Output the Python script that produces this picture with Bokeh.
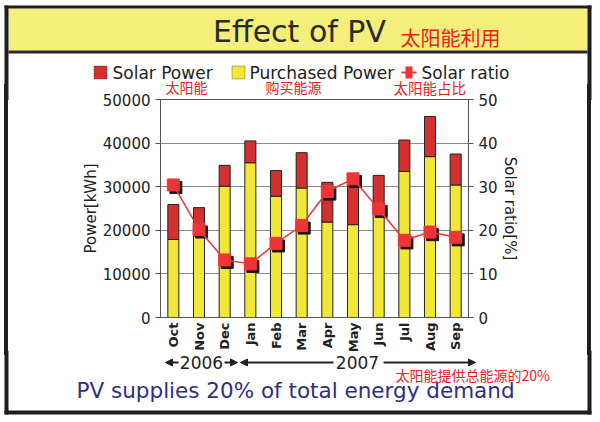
from bokeh.plotting import figure
from bokeh.layouts import column, row
from bokeh.models import (Range1d, LinearAxis, FactorRange, Label, BoxAnnotation, Div,
                          Arrow, NormalHead, ColumnDataSource, SingleIntervalTicker)
from bokeh.transform import dodge
from bokeh.embed import file_html
from bokeh.resources import INLINE

months = ["Oct", "Nov", "Dec", "Jan", "Feb", "Mar", "Apr", "May", "Jun", "Jul", "Aug", "Sep"]
purchased = [17900, 18700, 30100, 35500, 27800, 29700, 21900, 21300, 23800, 33500, 36900, 30400]
solar = [8000, 6500, 4800, 5000, 5900, 8100, 9100, 10600, 8800, 7200, 9200, 7100]
ratio = [30.4, 20.2, 13.2, 12.3, 17.0, 21.1, 28.9, 31.8, 24.9, 17.7, 19.6, 18.4]

RED = "#D3302F"
YELLOW = "#F2E637"
MRED = "#EE3535"
TRED = "#E8201F"
DARK = "#1e1e1e"
FONT = "DejaVu Sans"
CJK = "Noto Sans CJK SC"

W = 592
H_HEAD = 100          # head canvas: 0..100
OV_TOP = 16           # middle row overlaps head by this much -> starts at 84
H_MID = 271           # middle: 84..355
OV_BOT = 5            # bottom overlaps middle -> starts at 350
H_BOT = 66            # bottom: 350..416


def blank(w, h, y0, transparent=False):
    f = figure(width=w, height=h, x_range=Range1d(0, w), y_range=Range1d(y0 + h, y0),
               output_backend="svg", toolbar_location=None, min_border=0,
               x_axis_location=None, y_axis_location=None)
    f.grid.grid_line_color = None
    f.outline_line_color = None
    f.background_fill_color = "white"
    f.border_fill_color = "white"
    if transparent:
        f.background_fill_alpha = 0
        f.border_fill_alpha = 0
    return f


def box(f, l, r, t, b, color, line=None):
    f.add_layout(BoxAnnotation(left=l, right=r, top=t, bottom=b, fill_color=color,
                               fill_alpha=1, line_color=line, line_width=1))


def lab(f, text, x, y, size, color="#222222", font=FONT, align="left"):
    f.add_layout(Label(x=x, y=y, text=text, text_font=font, text_font_size=size,
                       text_color=color, text_align=align, text_baseline="middle"))


# ---------------- head ----------------
head = blank(W, H_HEAD, 0)
box(head, 8, 587, 8, 50, "#F4EE7A")
box(head, 8, 587, 50, 53, "#2a2a2a")
box(head, 4, 591, 5, 8, DARK)
box(head, 4, 8, 5, H_HEAD, DARK)
box(head, 587, 591, 5, H_HEAD, DARK)
lab(head, "Effect of PV", 299, 31, "30px", "#2a2a2a", align="center")
lab(head, "太阳能利用", 400, 37, "20px", TRED, font=CJK)
lab(head, "太阳能", 165, 86.5, "14px", TRED, font=CJK)
lab(head, "购买能源", 265, 86.5, "14px", TRED, font=CJK)
lab(head, "太阳能占比", 393, 86.5, "14.5px", TRED, font=CJK)

# legend
box(head, 93.5, 106.5, 65.5, 78.5, RED, DARK)
lab(head, "Solar Power", 112, 72, "17px")
box(head, 231.5, 244.5, 65.5, 78.5, YELLOW, DARK)
lab(head, "Purchased Power", 249, 72, "17px")
box(head, 401, 416, 71, 73, MRED)
box(head, 405, 412, 66, 78, MRED)
lab(head, "Solar ratio", 421, 72, "17px")

# ---------------- main chart ----------------
src = ColumnDataSource(dict(month=months, purchased=purchased, solar=solar, ratio=ratio))

p = figure(width=579, height=H_MID, x_range=FactorRange(*months), y_range=Range1d(0, 50000),
           output_backend="svg", toolbar_location=None,
           min_border_left=152, min_border_right=119, min_border_top=15, min_border_bottom=38)
p.extra_y_ranges = {"ratio": Range1d(0, 50)}

p.vbar_stack(["purchased", "solar"], x="month", width=0.43, source=src,
             fill_color=[YELLOW, RED], line_color="#222222", line_width=1)

p.scatter(x=dodge("month", 0.1, range=p.x_range), y=dodge("ratio", -0.6), source=src,
          marker="square", size=12, fill_color="#1a1a1a", line_color="#1a1a1a",
          y_range_name="ratio")
p.line(x="month", y="ratio", source=src, line_color=MRED, line_width=1.5, y_range_name="ratio")
p.scatter(x="month", y="ratio", source=src, marker="square", size=12,
          fill_color=MRED, line_color=MRED, y_range_name="ratio")

p.yaxis.ticker = SingleIntervalTicker(interval=10000)
p.yaxis.axis_label = "Power[kWh]"
right = LinearAxis(y_range_name="ratio", axis_label="Solar ratio[%]",
                   ticker=SingleIntervalTicker(interval=10))
p.add_layout(right, "right")
for ax in [p.yaxis[0], right]:
    ax.major_label_text_font = FONT
    ax.major_label_text_font_size = "15px"
    ax.major_label_text_color = "#222222"
    ax.axis_label_text_font = FONT
    ax.axis_label_text_font_size = "15px"
    ax.axis_label_text_font_style = "normal"
    ax.axis_label_text_color = "#222222"
    ax.axis_line_color = "#555555"
    ax.major_tick_line_color = "#555555"
    ax.major_tick_out = 5
    ax.major_tick_in = 0
    ax.minor_tick_line_color = None
    ax.axis_label_standoff = 0

xa = p.xaxis[0]
xa.major_label_orientation = 1.5708
xa.major_label_text_font = FONT
xa.major_label_text_font_size = "13px"
xa.major_label_text_font_style = "bold"
xa.major_label_text_color = "#222222"
xa.axis_line_color = "#555555"
xa.major_tick_line_color = None
xa.major_tick_out = 0
xa.major_tick_in = 0
xa.major_label_standoff = 5

p.xgrid.grid_line_color = None
p.ygrid.grid_line_color = "#8a8a8a"
p.ygrid.ticker = SingleIntervalTicker(interval=10000)
p.outline_line_color = "#555555"
p.background_fill_color = "white"
p.border_fill_alpha = 0

lbar = Div(text="", width=8, height=H_MID, margin=0,
           styles={"background": "linear-gradient(90deg, rgba(0,0,0,0) 0px, rgba(0,0,0,0) 4px, #1e1e1e 4px, #1e1e1e 8px)"})
rbar = Div(text="", width=5, height=H_MID, margin=0,
           styles={"background": "linear-gradient(90deg, #1e1e1e 0px, #1e1e1e 4px, rgba(0,0,0,0) 4px, rgba(0,0,0,0) 5px)"})

# ---------------- bottom ----------------
y_bot = H_HEAD - OV_TOP + H_MID - OV_BOT
bot = blank(W, H_BOT, y_bot, transparent=True)
box(bot, 4, 8, y_bot, 414, DARK)
box(bot, 587, 591, y_bot, 414, DARK)
box(bot, 4, 591, 410, 414, DARK)
lab(bot, "2006", 201, 362, "17px", align="center")
lab(bot, "2007", 357, 362, "17px", align="center")
lab(bot, "太阳能提供总能源的20%", 395, 374, "14px", TRED, font=CJK)
lab(bot, "PV supplies 20% of  total energy demand", 76, 390, "21.5px", "#2E2E86")


def arrow(f, x0, x1, y):
    f.add_layout(Arrow(x_start=x0, x_end=x1, y_start=y, y_end=y, line_color="#222222",
                       line_width=2, end=NormalHead(size=7, fill_color="#222222",
                                                    line_color="#222222")))


arrow(bot, 178, 165, 362)
arrow(bot, 224, 237, 362)
arrow(bot, 333, 240, 362)
arrow(bot, 383, 475, 362)

bot.margin = (-OV_BOT, 0, 0, 0)
mid = row(lbar, p, rbar, margin=(-OV_TOP, 0, 0, 0))
layout = column(head, mid, bot)
open("out.html", "w").write(file_html(layout, INLINE))
